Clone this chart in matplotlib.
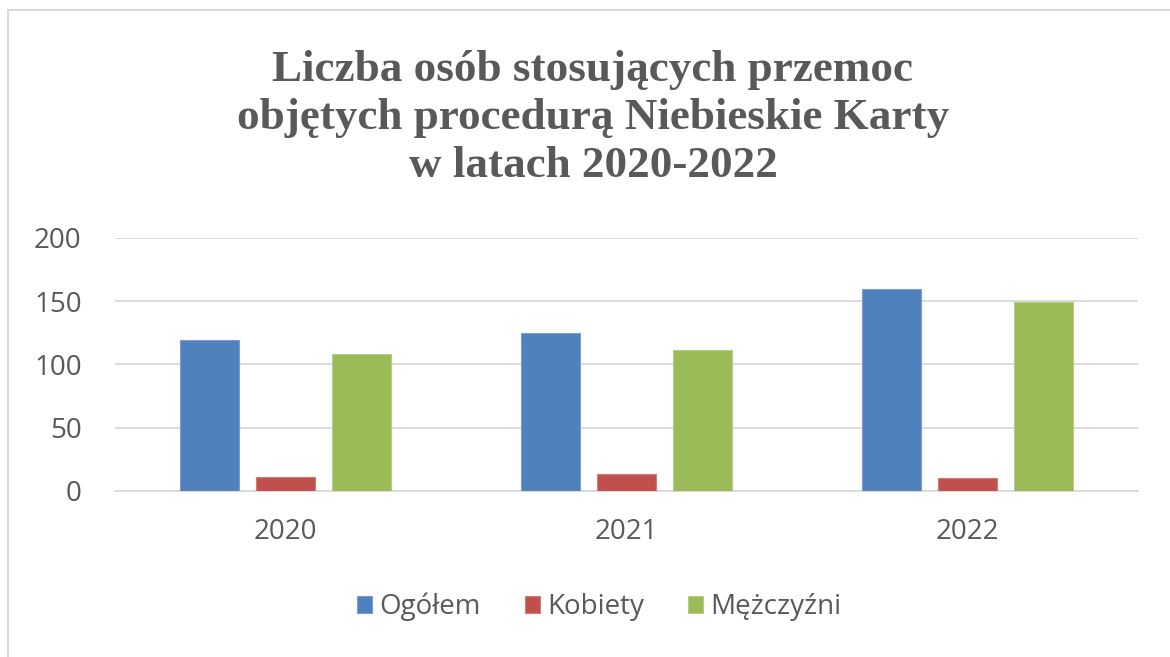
import matplotlib
matplotlib.use("Agg")
import matplotlib.pyplot as plt
from matplotlib.patches import Rectangle
import numpy as np

years = ["2020", "2021", "2022"]
series_names = ["Ogółem", "Kobiety", "Mężczyźni"]
ogolem = [119, 125, 160]
kobiety = [11, 13, 10]
mezczyzni = [108, 111, 149]
yticks = [0, 50, 100, 150, 200]
title = "Liczba osób stosujących przemoc\nobjętych procedurą Niebieskie Karty\nw latach 2020-2022"

colors = ["#4F81BD", "#C0504D", "#9BBB59"]
edges = ["#7A9FD0", "#D27B79", "#B5CE86"]
W, H = 1170, 657
fig = plt.figure(figsize=(W / 100, H / 100), dpi=100)
fig.patch.set_facecolor("white")

# outer chart border
fig.patches.append(Rectangle((8 / W, -0.05), 1.2, 1 - 10 / H + 0.05, transform=fig.transFigure,
                             fill=False, edgecolor="#D9D9D9", linewidth=1.5))

left, right = 115 / W, 1138 / W
bottom, top = 1 - 490.7 / H, 1 - 238 / H
ax = fig.add_axes([left, bottom, right - left, top - bottom])

x = np.arange(len(years))
bw = 0.173
step = 0.222
for i, (vals, c, e, name) in enumerate(zip([ogolem, kobiety, mezczyzni], colors, edges, series_names)):
    ax.bar(x + (i - 1) * step, vals, width=bw, color=c, edgecolor=e, linewidth=0.8, label=name, zorder=3)

ax.set_xlim(-0.5, 2.5)
ax.set_ylim(0, 200)
ax.set_yticks(yticks)
ax.set_yticklabels([str(v) for v in yticks])
ax.set_xticks(x)
ax.set_xticklabels(years)
ax.grid(axis="y", color="#D9D9D9", linewidth=1.3, zorder=0)
ax.set_axisbelow(True)
for s in ["top", "right", "left"]:
    ax.spines[s].set_visible(False)
ax.spines["bottom"].set_color("#D9D9D9")
ax.spines["bottom"].set_linewidth(1.3)
ax.tick_params(axis="both", length=0, colors="#595959", labelsize=20)
ax.tick_params(axis="y", pad=24)
ax.tick_params(axis="x", pad=20)
for lbl in ax.get_xticklabels() + ax.get_yticklabels():
    lbl.set_fontfamily("Open Sans")

fig.text(593 / W, 1 - 118 / H, title, ha="center", va="center", fontsize=32.5,
         fontweight="bold", family="Liberation Serif", color="#595959", linespacing=1.25)

leg = fig.legend(loc="center", bbox_to_anchor=(599 / W, 1 - 607 / H), ncol=3, frameon=False,
                 prop={"family": "Open Sans", "size": 20}, handlelength=0.55, handleheight=0.55,
                 handletextpad=0.25, columnspacing=1.6)
for t in leg.get_texts():
    t.set_color("#595959")

fig.savefig("out.png", dpi=100)
